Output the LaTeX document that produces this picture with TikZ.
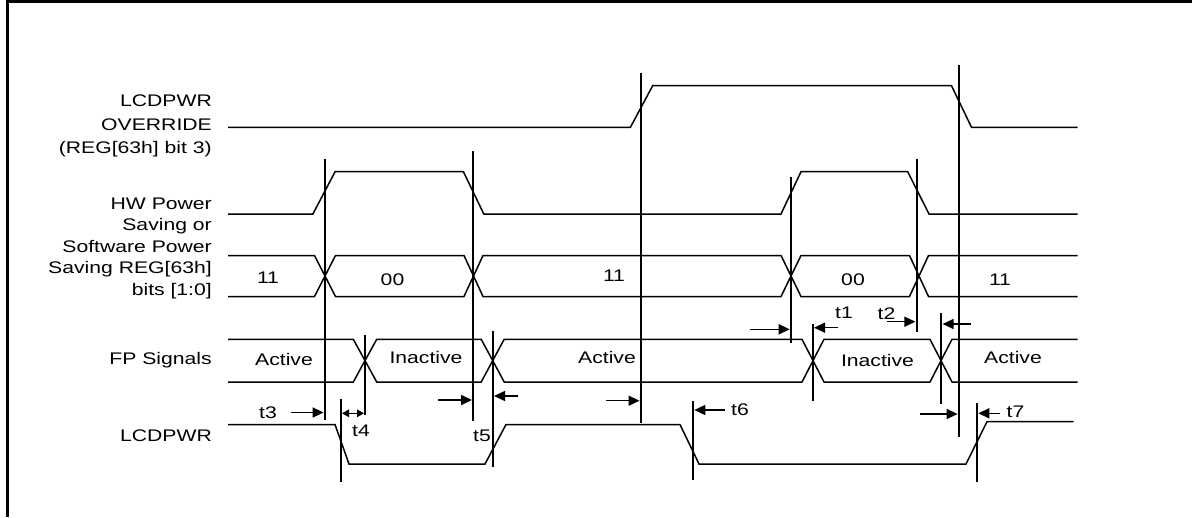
\documentclass[tikz,border=0pt]{standalone}
\usepackage{fontspec}
\setmainfont{Liberation Sans}[FakeStretch=1.26]
\usetikzlibrary{arrows.meta}
\begin{document}
\begin{tikzpicture}[x=1pt,y=-1pt,
  sig/.style={line width=1.5pt, line join=miter},
  vline/.style={line width=1.8pt},
  frame/.style={line width=2.7pt},
  dimarrow/.style={line width=1.5pt, -{Triangle[length=11pt,width=10pt]}},
  smallarrow/.style={line width=1.5pt, {Triangle[length=7pt,width=7.5pt]}-{Triangle[length=7pt,width=7.5pt]}},
  lbl/.style={anchor=base east, inner sep=0pt, font=\fontsize{16.8}{19}\selectfont},
  txt/.style={anchor=base, inner sep=0pt, font=\fontsize{16.8}{19}\selectfont},
]
\useasboundingbox (0,0) rectangle (1192,517);
% frame
\draw[frame] (7.3,0) -- (7.3,517);
\draw[frame] (6,1.8) -- (1192,1.8);

% labels
\node[lbl] (l1a) at (212,106.7) {LCDPWR};
\node[lbl] (l1b) at (212,130.5) {OVERRIDE};
\node[lbl] (l1c) at (212,153.5) {(REG[63h] bit 3)};
\node[lbl] (l2a) at (212,209) {HW Power};
\node[lbl] (l2b) at (212,230.5) {Saving or};
\node[lbl] (l2c) at (212,252) {Software Power};
\node[lbl] (l2d) at (212,273.5) {Saving REG[63h]};
\node[lbl] (l2e) at (212,295) {bits [1:0]};
\node[lbl] (l3) at (212,364) {FP Signals};
\node[lbl] (l4) at (212,441.5) {LCDPWR};

% signal 1: LCDPWR OVERRIDE
\draw[sig] (228,127.3) -- (630.4,127.3) -- (652.7,85.7) -- (951.5,85.7) -- (971.5,127.3) -- (1077.7,127.3);
% signal 2: HW Power saving
\draw[sig] (228,214) -- (312.9,214) -- (335.1,171.7) -- (463.4,171.7) -- (483.8,214) -- (781,214) -- (801,171.7) -- (907.7,171.7) -- (929,214) -- (1077.7,214);
% bus: REG[63h] bits [1:0]
\draw[sig] (228,255.5) -- (314.5,255.5) -- (325,276) -- (335.5,255.5) -- (464,255.5) -- (473.5,276) -- (483,255.5) -- (781,255.5) -- (791,276) -- (801,255.5) -- (909.5,255.5) -- (919,276) -- (928.5,255.5) -- (1077.7,255.5);
\draw[sig] (228,296.5) -- (314.5,296.5) -- (325,276) -- (335.5,296.5) -- (464,296.5) -- (473.5,276) -- (483,296.5) -- (781,296.5) -- (791,276) -- (801,296.5) -- (909.5,296.5) -- (919,276) -- (928.5,296.5) -- (1077.7,296.5);
% FP signals
\draw[sig] (228,339.3) -- (353.3,339.3) -- (365,360.6) -- (376.7,339.3) -- (481.2,339.3) -- (492.7,360.6) -- (504.2,339.3) -- (802,339.3) -- (813,360.6) -- (824,339.3) -- (930,339.3) -- (941,360.6) -- (952,339.3) -- (1077.7,339.3);
\draw[sig] (228,382) -- (353.3,382) -- (365,360.6) -- (376.7,382) -- (481.2,382) -- (492.7,360.6) -- (504.2,382) -- (802,382) -- (813,360.6) -- (824,382) -- (930,382) -- (941,360.6) -- (952,382) -- (1077.7,382);
% LCDPWR
\draw[sig] (228,424.5) -- (335,424.5) -- (349,464) -- (485,464) -- (506,424.5) -- (680,424.5) -- (699,464) -- (966,464) -- (987,421.7) -- (1073.5,421.7);

% bus values
\node[txt] (b1) at (268,283) {11};
\node[txt] (b2) at (392.5,285) {00};
\node[txt] (b3) at (614,281.7) {11};
\node[txt] (b4) at (853,285) {00};
\node[txt] (b5) at (1000,285) {11};
% FP values
\node[txt] (f1) at (284,365) {Active};
\node[txt] (f2) at (426,363) {Inactive};
\node[txt] (f3) at (607,363) {Active};
\node[txt] (f4) at (877.5,366.5) {Inactive};
\node[txt] (f5) at (1013,363.3) {Active};

% vertical timing markers
\coordinate (v1t) at (325,159);   \coordinate (v1b) at (325,420);
\coordinate (v2t) at (473.3,151); \coordinate (v2b) at (473.3,420.7);
\coordinate (v3t) at (365,335);   \coordinate (v3b) at (365,415);
\coordinate (v4t) at (341,399);   \coordinate (v4b) at (341,482);
\coordinate (v5t) at (492.7,331); \coordinate (v5b) at (492.7,467);
\coordinate (v6t) at (640.8,72.7); \coordinate (v6b) at (640.8,422.7);
\coordinate (v7t) at (959,65);  \coordinate (v7b) at (959,436.5);
\coordinate (v8t) at (791,176.7); \coordinate (v8b) at (791,342.7);
\coordinate (v9t) at (916.7,158.7); \coordinate (v9b) at (916.7,332.3);
\coordinate (v10t) at (812.7,324); \coordinate (v10b) at (812.7,400.7);
\coordinate (v11t) at (941.3,312.7); \coordinate (v11b) at (941.3,404);
\coordinate (v12t) at (693,401); \coordinate (v12b) at (693,480);
\coordinate (v13t) at (977,403.3); \coordinate (v13b) at (977,482);
\foreach \v in {1,...,13} \draw[vline] (v\v t) -- (v\v b);

% timing arrows
\coordinate (a3s) at (291,412.5);   \coordinate (a3e) at (323.6,412.5);
\coordinate (a4s) at (342,413.3);   \coordinate (a4e) at (364,413.3);
\coordinate (a5s) at (438.3,400);   \coordinate (a5e) at (472,400);
\coordinate (a5rs) at (518.3,396);  \coordinate (a5re) at (494,396);
\coordinate (a6s) at (606,400.7);   \coordinate (a6e) at (639.5,400.7);
\coordinate (a6rs) at (724.6,410);  \coordinate (a6re) at (694.3,410);
\coordinate (a1s) at (750,329.3);   \coordinate (a1e) at (789.7,329.3);
\coordinate (a1rs) at (838,327.7);  \coordinate (a1re) at (814,327.7);
\coordinate (a2s) at (886.7,321.7); \coordinate (a2e) at (915.4,321.7);
\coordinate (a2rs) at (970.7,324);  \coordinate (a2re) at (942.6,324);
\coordinate (a7s) at (920,414);     \coordinate (a7e) at (957.6,414);
\coordinate (a7rs) at (1000,413.3); \coordinate (a7re) at (978.3,413.3);
\draw[dimarrow] (a3s) -- (a3e);
\draw[smallarrow] (a4s) -- (a4e);
\draw[dimarrow] (a5s) -- (a5e);
\draw[dimarrow] (a5rs) -- (a5re);
\draw[dimarrow] (a6s) -- (a6e);
\draw[dimarrow] (a6rs) -- (a6re);
\draw[dimarrow] (a1s) -- (a1e);
\draw[dimarrow] (a1rs) -- (a1re);
\draw[dimarrow] (a2s) -- (a2e);
\draw[dimarrow] (a2rs) -- (a2re);
\draw[dimarrow] (a7s) -- (a7e);
\draw[dimarrow] (a7rs) -- (a7re);

% timing labels
\node[txt] (t1) at (844,318.5) {t1};
\node[txt] (t2) at (886.5,319) {t2};
\node[txt] (t3) at (268,418.3) {t3};
\node[txt] (t4) at (361,436.7) {t4};
\node[txt] (t5) at (482,441.7) {t5};
\node[txt] (t6) at (740,415) {t6};
\node[txt] (t7) at (1015.5,417.3) {t7};
\end{tikzpicture}
\end{document}
